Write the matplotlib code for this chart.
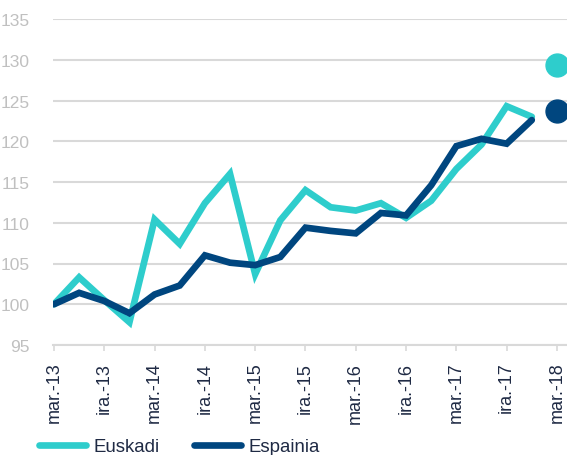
import numpy as np
import matplotlib
matplotlib.use('Agg')
import matplotlib.pyplot as plt

plt.rcParams['font.family'] = ['Liberation Sans', 'DejaVu Sans']

# quarterly periods (mar, eka, ira, abe) from mar.-13 to mar.-18
quarters = []
for yy in range(13, 19):
    for m in ['mar.', 'eka.', 'ira.', 'abe.']:
        quarters.append('%s-%d' % (m, yy))
quarters = quarters[:21]

euskadi = [100.0, 103.3, 100.5, 97.8, 110.4, 107.4, 112.4, 116.0, 103.7, 110.3,
           114.0, 111.9, 111.5, 112.4, 110.6, 112.7, 116.6, 119.6, 124.3, 123.0]
espainia = [100.0, 101.4, 100.4, 98.9, 101.2, 102.3, 106.0, 105.1, 104.8, 105.8,
            109.4, 109.0, 108.7, 111.2, 110.9, 114.6, 119.4, 120.3, 119.7, 122.6]
# forecast points for mar.-18
euskadi_next = 129.3
espainia_next = 123.7

tick_labels = quarters[::2]

c_eus = '#2ecdcc'
c_esp = '#00467f'
grey = '#d9d9d9'
txt = '#1f2a44'

fig = plt.figure(figsize=(5.67, 4.56), dpi=100)
ax = fig.add_axes([53/567, 110/456, 1 - 53/567, 326/456])

ind = np.arange(len(quarters))
l1, = ax.plot(ind[:len(euskadi)], euskadi, color=c_eus, lw=4.8,
              solid_joinstyle='miter', solid_capstyle='round')
l2, = ax.plot(ind[:len(espainia)], espainia, color=c_esp, lw=4.8,
              solid_joinstyle='miter', solid_capstyle='round')
ax.plot([ind[-1]], [euskadi_next], 'o', color=c_eus, ms=16.5, clip_on=False)
ax.plot([ind[-1]], [espainia_next], 'o', color=c_esp, ms=16.5, clip_on=False)

ax.set_ylim(95, 135)
ax.set_yticks(np.arange(95, 136, 5))
ax.set_xlim(-0.04, 20.4)
ax.set_xticks(ind[::2])
ax.set_xticklabels(tick_labels, rotation=90, fontsize=13, color=txt)
ax.tick_params(axis='y', length=0, pad=17, labelsize=12.5, labelcolor='#c0c0c0')
ax.tick_params(axis='x', length=4, width=1.2, color=grey, pad=8)
ax.grid(axis='y', color=grey, lw=1.5)
ax.set_axisbelow(True)
for s in ['top', 'right', 'left']:
    ax.spines[s].set_visible(False)
ax.spines['bottom'].set_color(grey)
ax.spines['bottom'].set_linewidth(1.5)

leg = fig.legend((l1, l2), ('Euskadi', 'Espainia'), loc='lower left',
                 bbox_to_anchor=(22/567, -17/456), ncol=2, frameon=False,
                 fontsize=13.4, handlelength=2.55, handletextpad=0.39,
                 columnspacing=1.84)
for t in leg.get_texts():
    t.set_color(txt)

fig.savefig('out.png', dpi=100)
